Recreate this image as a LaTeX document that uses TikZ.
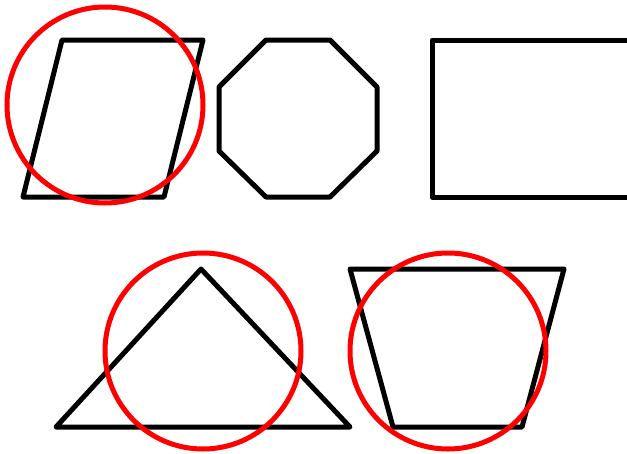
\documentclass[tikz,border=0pt]{standalone}
\begin{document}
\begin{tikzpicture}[x=1pt,y=-1pt,
  outline/.style={draw=black,line width=5pt,line join=round},
  ring/.style={draw=red,line width=5pt}]
\useasboundingbox (0,0) rectangle (627,453);
\clip (0,0) rectangle (627,453);
% parallelogram
\draw[outline] (62,40) -- (203,40) -- (164,197) -- (23,197) -- cycle;
% octagon
\draw[outline] (266,40) -- (330,40) -- (377,87) -- (377,151) -- (330,197) -- (266,197) -- (219,151) -- (219,87) -- cycle;
% rectangle
\draw[outline] (432,40) rectangle (640,197);
% triangle
\draw[outline] (56,427) -- (201,269) -- (350,427) -- cycle;
% trapezoid
\draw[outline] (350,269) -- (564,269) -- (522,427) -- (393,427) -- cycle;
% circles
\draw[ring] (105,105) circle[radius=98];
\draw[ring] (203,351) circle[radius=98];
\draw[ring] (448,351) circle[radius=98];
\end{tikzpicture}
\end{document}
